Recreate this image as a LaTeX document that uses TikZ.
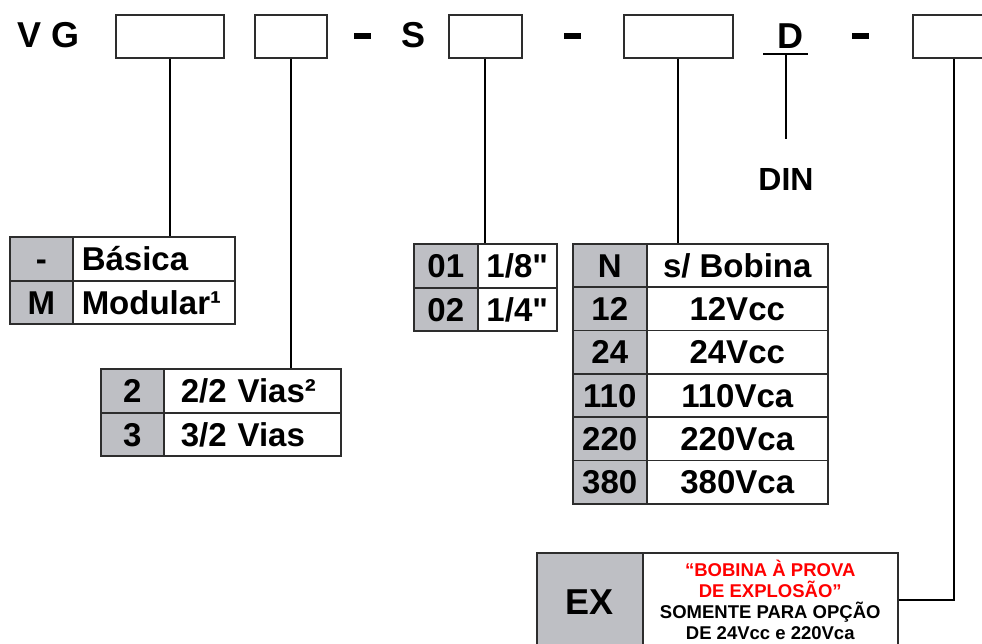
\documentclass[tikz,border=0pt]{standalone}
\usepackage{fontspec}
\setmainfont{Liberation Sans}[Ligatures=TeXOff]
\usetikzlibrary{positioning}

\definecolor{keygray}{RGB}{190,191,196}
\definecolor{edgegray}{RGB}{45,45,45}
\newcommand{\bigtxt}{\fontsize{36}{40}\selectfont\bfseries}
\newcommand{\dintxt}{\fontsize{32}{36}\selectfont\bfseries}
\newcommand{\celltxt}{\fontsize{33}{38}\selectfont\bfseries}
\newcommand{\notetxt}{\fontsize{18.5}{21}\selectfont\bfseries}

\begin{document}
\begin{tikzpicture}[x=1pt,y=-1pt,
  codebox/.style={draw=edgegray,line width=1.5pt,minimum height=43pt,inner sep=0pt,anchor=north west},
  dashbar/.style={fill=black,minimum width=17pt,minimum height=6pt,inner sep=0pt},
  cell/.style={draw=edgegray,line width=1.5pt,inner sep=0pt,anchor=north west},
  tcell/.style={cell,font=\celltxt,text height=23.6pt,text depth=0pt},
  keycell/.style={tcell,fill=keygray},
  lead/.style={line width=2.2pt}]
\useasboundingbox (0,0) rectangle (982,643);
\clip (0,0) rectangle (982,643);

% code line
\node[font=\bigtxt,anchor=base] at (49,47) (vg) {V G};
\node[codebox,minimum width=108pt] at (115,14) (tipo) {};
\node[codebox,minimum width=72pt] at (254,14) (vias) {};
\node[dashbar] at (362.5,35.5) (sepa) {};
\node[font=\bigtxt,anchor=base] at (414,47) (s) {S};
\node[codebox,minimum width=73pt] at (448,14) (rosca) {};
\node[dashbar] at (572,35.5) (sepb) {};
\node[codebox,minimum width=109pt] at (623,14) (tensao) {};
\node[font=\bigtxt,anchor=base] at (790,48) (d) {D};
\node[dashbar] at (860.5,35.5) (sepc) {};
\node[codebox,minimum width=82pt] at (912,14) (extra) {};

% DIN
\coordinate (dbar) at (786,54);
\coordinate (dend) at (786,139);
\draw[line width=2pt] ([xshift=-23pt]dbar) -- ([xshift=22pt]dbar);
\draw[lead] (dbar) -- (dend);
\node[font=\dintxt,anchor=base] at (786,190) (din) {DIN};

% tipo
\node[keycell,minimum width=63pt,minimum height=44pt] at (9,236) (bk) {-};
\node[tcell,minimum height=44pt,text width=144pt,inner xsep=9pt,align=left] at (72,236) (bv) {Básica};
\node[keycell,minimum width=63pt,minimum height=43pt] at (9,280) (mk) {M};
\node[tcell,minimum height=43pt,text width=144pt,inner xsep=9pt,align=left] at (72,280) (mv) {Modular¹};

% vias
\node[keycell,minimum width=63pt,minimum height=44pt] at (100,368) (vk2) {2};
\node[tcell,minimum height=44pt,text width=143pt,inner xsep=17pt,align=left] at (163,368) (vv2) {2/2 Vias²};
\node[keycell,minimum width=63pt,minimum height=43pt] at (100,412) (vk3) {3};
\node[tcell,minimum height=43pt,text width=143pt,inner xsep=17pt,align=left] at (163,412) (vv3) {3/2 Vias};

% rosca
\node[keycell,minimum width=64pt,minimum height=44pt] at (413,243) (rk1) {01};
\node[tcell,minimum width=79pt,minimum height=44pt] at (477,243) (rv1) {1/8"};
\node[keycell,minimum width=64pt,minimum height=43pt] at (413,287) (rk2) {02};
\node[tcell,minimum width=79pt,minimum height=43pt] at (477,287) (rv2) {1/4"};

% tensao
\node[keycell,minimum width=74pt,minimum height=43.4pt] at (572,243) (nk) {N};
\node[tcell,minimum width=181pt,minimum height=43.4pt] at (646,243) (nv) {s/ Bobina};
\node[keycell,minimum width=74pt,minimum height=43.3pt] at (572,286.4) (k12) {12};
\node[tcell,minimum width=181pt,minimum height=43.3pt] at (646,286.4) (v12) {12Vcc};
\node[keycell,minimum width=74pt,minimum height=43.3pt] at (572,329.7) (k24) {24};
\node[tcell,minimum width=181pt,minimum height=43.3pt] at (646,329.7) (v24) {24Vcc};
\node[keycell,minimum width=74pt,minimum height=43.3pt] at (572,373) (k110) {110};
\node[tcell,minimum width=181pt,minimum height=43.3pt] at (646,373) (v110) {110Vca};
\node[keycell,minimum width=74pt,minimum height=43.3pt] at (572,416.3) (k220) {220};
\node[tcell,minimum width=181pt,minimum height=43.3pt] at (646,416.3) (v220) {220Vca};
\node[keycell,minimum width=74pt,minimum height=43.4pt] at (572,459.6) (k380) {380};
\node[tcell,minimum width=181pt,minimum height=43.4pt] at (646,459.6) (v380) {380Vca};

% EX
\node[cell,fill=keygray,font=\bigtxt,minimum width=106pt,minimum height=98pt] at (536,552) (exk) {EX};
\node[cell,font=\notetxt,minimum width=255pt,minimum height=94pt,align=center] at (642,552) (exv)
  {\textcolor{red}{“BOBINA À PROVA}\\\textcolor{red}{DE EXPLOSÃO”}\\SOMENTE PARA OPÇÃO\\DE 24Vcc e 220Vca};
\draw[edgegray,line width=1.5pt] (exv.south east) -- ++(0,10);

% leads
\draw[lead] (tipo.south) -- (tipo.south |- bv.north);
\draw[lead] (vias.south) -- (vias.south |- vv2.north);
\draw[lead] (rosca.south) -- (rosca.south |- rv1.north);
\draw[lead] (tensao.south) -- (tensao.south |- nv.north);
\draw[lead] (extra.south) |- (exv.east);
\end{tikzpicture}
\end{document}
